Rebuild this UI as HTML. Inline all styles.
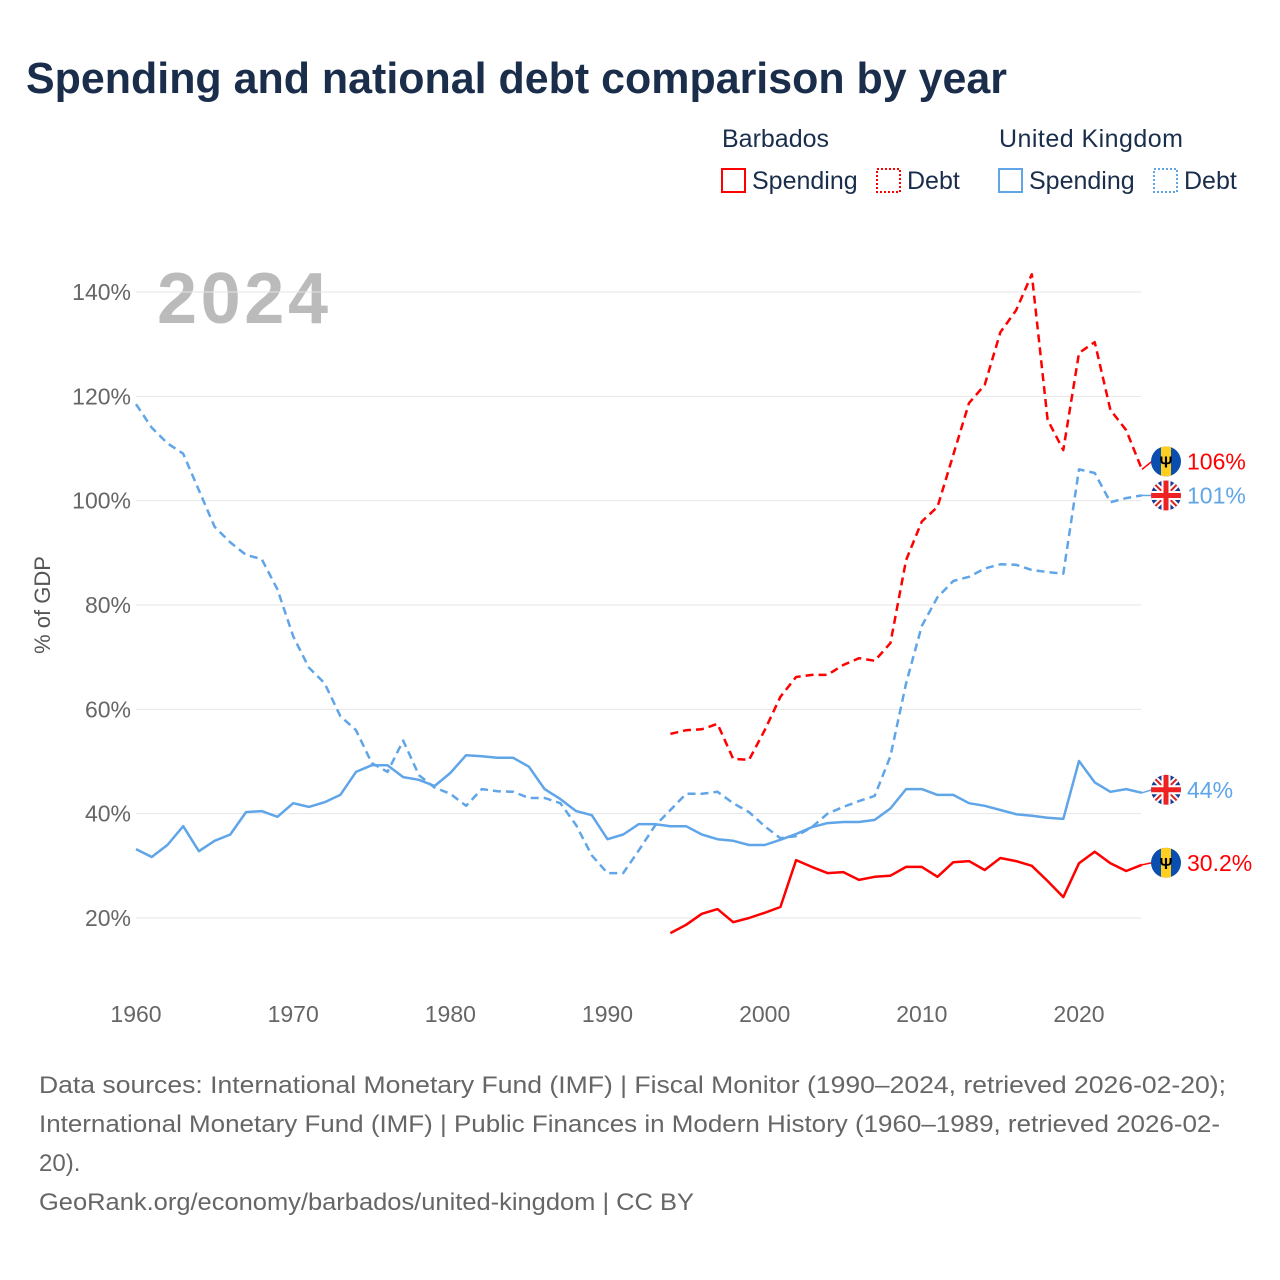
<!DOCTYPE html>
<html><head><meta charset="utf-8">
<style>
body{margin:0;background:#fff;font-family:"Liberation Sans",sans-serif;}
#wrap{position:relative;width:1280px;height:1280px;overflow:hidden;}
</style></head>
<body>
<div id="wrap">
<svg id="chart" width="1280" height="1280" xmlns="http://www.w3.org/2000/svg">
  <text x="26" y="93" font-size="44" font-weight="bold" fill="#1a2e4c" textLength="981" lengthAdjust="spacingAndGlyphs">Spending and national debt comparison by year</text>
  <g font-size="25" fill="#1a2e4c">
    <text x="722" y="147">Barbados</text>
    <text x="999" y="147" textLength="184">United Kingdom</text>
    <g>
      <rect x="722" y="169" width="23" height="23" fill="none" stroke="#f00" stroke-width="2"/>
      <text x="752" y="189">Spending</text></g>
    <g>
      <rect x="877" y="169" width="23" height="23" fill="none" stroke="#f00" stroke-width="2" stroke-dasharray="2 2"/>
      <text x="907" y="189">Debt</text></g>
    <g>
      <rect x="999" y="169" width="23" height="23" fill="none" stroke="#5fa5e8" stroke-width="2"/>
      <text x="1029" y="189">Spending</text></g>
    <g>
      <rect x="1154" y="169" width="23" height="23" fill="none" stroke="#5fa5e8" stroke-width="2" stroke-dasharray="2 2"/>
      <text x="1184" y="189">Debt</text></g>
  </g>
  <text x="157" y="323" font-size="72" font-weight="bold" fill="#bbbbbb" textLength="171">2024</text>
  <text transform="translate(50,605) rotate(-90)" text-anchor="middle" font-size="22" fill="#555">% of GDP</text>
  <g id="grid"></g><g id="yt"></g><g id="xt"></g><g id="lines"></g><g id="ends"></g>
  <g font-size="24" fill="#666">
    <text x="39" y="1093" textLength="1187" lengthAdjust="spacingAndGlyphs">Data sources: International Monetary Fund (IMF) | Fiscal Monitor (1990–2024, retrieved 2026-02-20);</text>
    <text x="39" y="1132" textLength="1181" lengthAdjust="spacingAndGlyphs">International Monetary Fund (IMF) | Public Finances in Modern History (1960–1989, retrieved 2026-02-</text>
    <text x="39" y="1171">20).</text>
    <text x="39" y="1210" textLength="655" lengthAdjust="spacingAndGlyphs">GeoRank.org/economy/barbados/united-kingdom | CC BY</text>
  </g>
</svg>
</div>
<script>
const yTicks=[20,40,60,80,100,120,140];
const xTicks=[1960,1970,1980,1990,2000,2010,2020];
const ukYears0=1960;
const ukDebt=[118.5,114,111,109,102,95,92,89.6,88.8,83,74,68,65,58.7,56,49.7,48,54,47.4,45,43.8,41.5,44.7,44.3,44.2,43,43,42,37.8,32,28.6,28.6,33,37.6,40.7,43.8,43.8,44.2,42,40.3,37.6,35.3,35.7,37.4,40,41.3,42.4,43.4,51,65,76,81.5,84.6,85.4,87,87.8,87.7,86.7,86.3,86,106,105.3,99.7,100.5,101];
const ukSpend=[33.2,31.7,34,37.6,32.8,34.8,36,40.3,40.5,39.4,42,41.3,42.2,43.6,48,49.3,49.3,47,46.5,45.3,47.8,51.2,51,50.7,50.7,49,44.7,42.8,40.5,39.7,35.1,36,38,38,37.6,37.6,36,35.1,34.8,34,34,35,36.1,37.4,38.2,38.4,38.4,38.8,41,44.7,44.7,43.6,43.6,42,41.5,40.7,39.9,39.6,39.2,39,50.1,46,44.2,44.7,44];
const bbYears0=1994;
const bbDebt=[55.3,56,56.2,57.2,50.5,50.3,56,62.4,66.2,66.6,66.6,68.5,69.8,69.3,72.7,88.6,96,98.8,108.8,118.7,122.2,132.3,136.5,143.4,115.5,109.7,128.3,130.4,117.4,113.5,106];
const bbSpend=[17.1,18.7,20.8,21.7,19.2,20,21,22.1,31.1,29.8,28.6,28.8,27.3,27.9,28.1,29.8,29.8,27.9,30.7,30.9,29.2,31.5,30.9,30,27.1,24,30.5,32.7,30.5,29,30.2];
const endLabels=["106%","101%","44%","30.2%"];

const NS="http://www.w3.org/2000/svg";
const X=yr=>136+(yr-1960)*(943/60);
const Y=v=>918-(v-20)*(626/120);
function mk(tag,attrs,parent){const e=document.createElementNS(NS,tag);for(const k in attrs)e.setAttribute(k,attrs[k]);parent.appendChild(e);return e;}
const grid=document.getElementById('grid'),yt=document.getElementById('yt'),xt=document.getElementById('xt'),lines=document.getElementById('lines'),ends=document.getElementById('ends');
yTicks.forEach(v=>{
  const l=mk('line',{x1:136,x2:1141,y1:Y(v),y2:Y(v),stroke:'#e6e6e6','stroke-width':1},grid);
  
  
  const t=mk('text',{x:131,y:Y(v)+8,'text-anchor':'end','font-size':23,fill:'#666'},yt);
  t.textContent=v+'%';
  
  
});
xTicks.forEach(yr=>{
  const t=mk('text',{x:X(yr),y:1022,'text-anchor':'middle','font-size':23,fill:'#666'},xt);
  t.textContent=yr;
  
  
});
function series(vals,y0,color,dash,name){
  const pts=vals.map((v,i)=>X(y0+i).toFixed(1)+','+Y(v).toFixed(1)).join(' ');
  const p=mk('polyline',{points:pts,fill:'none',stroke:color,'stroke-width':2.5,'stroke-linejoin':'round'},lines);
  if(dash)p.setAttribute('stroke-dasharray','8 5');
  
  
}
series(ukDebt,ukYears0,'#5fa5e8',true,'uk-debt-line');
series(ukSpend,ukYears0,'#5fa5e8',false,'uk-spending-line');
series(bbDebt,bbYears0,'#ff0000',true,'barbados-debt-line');
series(bbSpend,bbYears0,'#ff0000',false,'barbados-spending-line');

function flag(cx,cy,uk,name){
  const g=mk('g',{},ends);
  
  
  const id='c'+Math.round(cy);
  const cp=mk('clipPath',{id:id},g);mk('circle',{cx:cx,cy:cy,r:15},cp);
  const f=mk('g',{'clip-path':'url(#'+id+')'},g);
  if(uk){
    mk('rect',{x:cx-15,y:cy-15,width:30,height:30,fill:'#1a3a8c'},f);
    mk('path',{d:`M${cx-15} ${cy-15}L${cx+15} ${cy+15}M${cx+15} ${cy-15}L${cx-15} ${cy+15}`,stroke:'#fff','stroke-width':6},f);
    mk('path',{d:`M${cx-15} ${cy-15}L${cx+15} ${cy+15}M${cx+15} ${cy-15}L${cx-15} ${cy+15}`,stroke:'#d22','stroke-width':2},f);
    mk('path',{d:`M${cx} ${cy-15}V${cy+15}M${cx-15} ${cy}H${cx+15}`,stroke:'#fff','stroke-width':9},f);
    mk('path',{d:`M${cx} ${cy-15}V${cy+15}M${cx-15} ${cy}H${cx+15}`,stroke:'#e22','stroke-width':5},f);
  }else{
    mk('rect',{x:cx-15,y:cy-15,width:30,height:30,fill:'#0a4fb0'},f);
    mk('rect',{x:cx-5,y:cy-15,width:10,height:30,fill:'#ffcf1f'},f);
    const t=mk('text',{x:cx,y:cy+6,'text-anchor':'middle','font-size':16,'font-weight':'bold',fill:'#000'},f);t.textContent='Ψ';
  }
}
const endVals=[bbDebt[bbDebt.length-1],ukDebt[ukDebt.length-1],ukSpend[ukSpend.length-1],bbSpend[bbSpend.length-1]];
const endColors=['#ff0000','#5fa5e8','#5fa5e8','#ff0000'];
const endUK=[false,true,true,false];
const endNames=['barbados-debt','uk-debt','uk-spending','barbados-spending'];
const endShift=[-8,0,-3,-2];
endVals.forEach((v,i)=>{
  const cy=Y(v)+endShift[i];
  mk('line',{x1:1142,x2:1152,y1:Y(v),y2:cy,stroke:endColors[i],'stroke-width':1.5},ends);
  flag(1166,cy,endUK[i],endNames[i]+'-flag');
  const t=mk('text',{x:1187,y:cy+8,'font-size':23,fill:endColors[i]},ends);
  t.textContent=endLabels[i];
  
  
});
</script>
</body></html>
